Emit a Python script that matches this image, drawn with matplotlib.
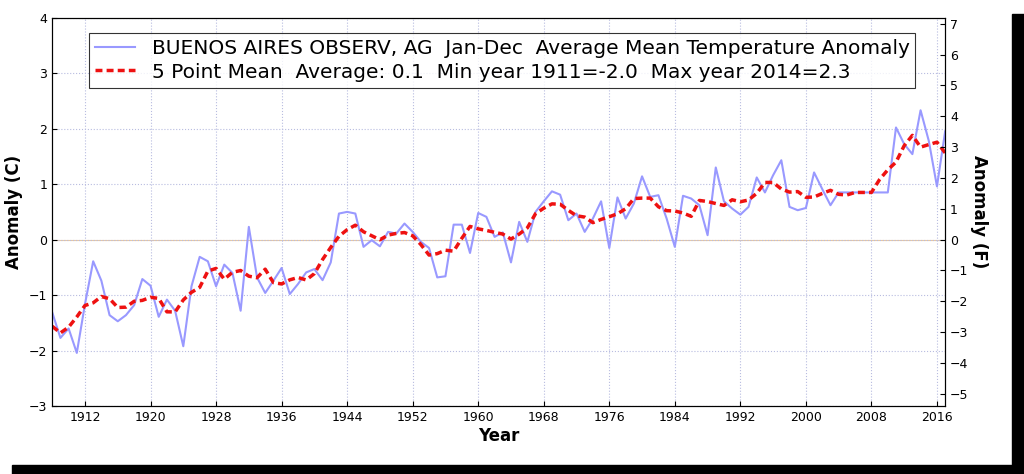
import matplotlib.pyplot as plt
import matplotlib.patches as mpatches
import numpy as np
import pandas as pd

years = np.arange(1908, 2018)
anomaly = [-1.31, -1.77, -1.60, -2.04, -1.16, -0.39, -0.74, -1.36, -1.47, -1.36,
           -1.18, -0.71, -0.83, -1.39, -1.08, -1.28, -1.92, -0.84, -0.31, -0.39,
           -0.84, -0.45, -0.60, -1.28, 0.23, -0.68, -0.96, -0.74, -0.51, -0.98,
           -0.80, -0.59, -0.53, -0.73, -0.41, 0.47, 0.50, 0.47, -0.13, -0.01,
           -0.12, 0.14, 0.11, 0.29, 0.14, -0.04, -0.15, -0.68, -0.66, 0.27,
           0.27, -0.24, 0.48, 0.41, 0.05, 0.13, -0.41, 0.32, -0.04, 0.50,
           0.69, 0.87, 0.81, 0.35, 0.47, 0.14, 0.38, 0.69, -0.15, 0.76,
           0.38, 0.65, 1.14, 0.77, 0.80, 0.38, -0.13, 0.79, 0.74, 0.62,
           0.08, 1.30, 0.69, 0.56, 0.45, 0.59, 1.12, 0.85, 1.16, 1.43,
           0.59, 0.53, 0.57, 1.21, 0.91, 0.62, 0.85, 0.85, 0.85, 0.85,
           0.85, 0.85, 0.85, 2.02, 1.72, 1.54, 2.33, 1.78, 0.96, 1.95]

mean5 = pd.Series(anomaly).rolling(5, center=True, min_periods=1).mean()

fig = plt.figure(figsize=(10.24, 4.74), dpi=100)
# drop shadow border
fig.patches.append(mpatches.Rectangle((0.012, 0.0), 0.988, 0.02, transform=fig.transFigure, color='black'))
fig.patches.append(mpatches.Rectangle((0.988, 0.0), 0.012, 0.97, transform=fig.transFigure, color='black'))

ax = fig.add_axes([0.051, 0.143, 0.872, 0.82])
ax.plot(years, anomaly, color='#9999ff', lw=1.5,
        label='BUENOS AIRES OBSERV, AG  Jan-Dec  Average Mean Temperature Anomaly')
ax.plot(years, mean5, color='#ee1111', lw=2.5, ls=(0, (2, 1.2)),
        label='5 Point Mean  Average: 0.1  Min year 1911=-2.0  Max year 2014=2.3')
ax.axhline(0, color='#e8c8a0', lw=0.8, zorder=0)
ax.set_xlim(1908, 2017)
ax.set_ylim(-3, 4)
ax.set_xticks(range(1912, 2017, 8))
ax.set_yticks(range(-3, 5))
ax.grid(True, ls=':', color='#b8bce0', lw=0.8)
ax.tick_params(labelsize=9, direction='in')
ax.set_xlabel('Year', fontsize=12, fontweight='bold', labelpad=2)
ax.set_ylabel('Anomaly (C)', fontsize=12, fontweight='bold')

ax2 = ax.twinx()
ax2.set_ylim(-3 * 1.8, 4 * 1.8)
ax2.set_yticks(range(-5, 8))
ax2.tick_params(labelsize=9, direction='in')
ax2.set_ylabel('Anomaly (F)', fontsize=12, fontweight='bold', rotation=270, labelpad=14)

leg = ax.legend(loc='upper left', bbox_to_anchor=(0.03, 0.985), fontsize=14.5,
                frameon=True, fancybox=False, edgecolor='black', handlelength=2.0,
                borderpad=0.3, labelspacing=0.2)
leg.get_frame().set_linewidth(0.8)

fig.savefig('out.png', dpi=100)
